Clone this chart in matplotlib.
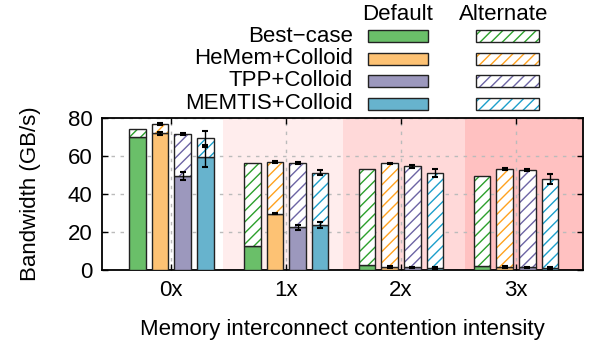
import numpy as np
import matplotlib
matplotlib.use('Agg')
import matplotlib.pyplot as plt
from matplotlib.patches import Rectangle

plt.rcParams['font.family'] = ['Liberation Sans', 'DejaVu Sans']
plt.rcParams['hatch.linewidth'] = 1.0

groups = ['0x', '1x', '2x', '3x']
systems = ['Best\u2212case', 'HeMem+Colloid', 'TPP+Colloid', 'MEMTIS+Colloid']

# bottom (solid) part of each stacked bar
default_bw = [
    [70.2, 12.6, 2.5, 2.3],
    [72.0, 29.8, 1.6, 1.5],
    [49.6, 22.5, 1.4, 1.4],
    [59.6, 23.7, 1.0, 1.0],
]
# top (hatched) part of each stacked bar
alternate_bw = [
    [4.1, 44.1, 51.0, 47.5],
    [5.0, 27.2, 54.7, 52.0],
    [22.1, 33.8, 53.2, 51.3],
    [9.9, 27.7, 50.2, 46.9],
]
default_err = [
    [0, 0, 0, 0],
    [0.6, 0.5, 0.4, 0.4],
    [2.0, 1.5, 0.4, 0.4],
    [5.5, 1.5, 0.4, 0.4],
]
total_err = [
    [0, 0, 0, 0],
    [0.6, 0.4, 0.4, 0.5],
    [0.5, 0.5, 1.0, 0.5],
    [3.8, 1.5, 2.0, 2.5],
]

fill_colors = ['#6abf69', '#fdc274', '#9c98bd', '#67b3cd']
hatch_colors = ['#2ca02c', '#ffa21f', '#6c64a4', '#1c9fcb']
shade_colors = ['#ffffff', '#ffeded', '#ffd9d9', '#ffc1c1']
shade_edges = [-0.6, 0.446, 1.498, 2.557, 3.58]

FS = 16

fig = plt.figure(figsize=(5.89, 3.48), dpi=100)
ax = fig.add_axes([0.1737, 0.2241, 0.8156, 0.4359])

for i in range(4):
    ax.axvspan(shade_edges[i], shade_edges[i + 1], color=shade_colors[i], lw=0, zorder=0)

x = np.arange(len(groups))
slot = 0.197
width = 0.145
for k in range(len(systems)):
    pos = x + (k - 1.5) * slot
    d = np.array(default_bw[k])
    a = np.array(alternate_bw[k])
    ax.bar(pos, d, width, color=fill_colors[k], edgecolor='#222222', lw=1.0, zorder=3)
    ax.bar(pos, a, width, bottom=d, color='white', edgecolor=hatch_colors[k],
           hatch='///', lw=0, zorder=3)
    ax.bar(pos, a, width, bottom=d, fill=False, edgecolor='#222222', lw=1.0, zorder=4)
    de = np.array(default_err[k])
    te = np.array(total_err[k])
    m = de > 0
    ax.errorbar(pos[m], d[m], yerr=de[m], fmt='none', ecolor='black', elinewidth=1.0,
                capsize=2.5, capthick=1.5, zorder=5)
    m = te > 0
    ax.errorbar(pos[m], (d + a)[m], yerr=te[m], fmt='none', ecolor='black', elinewidth=1.0,
                capsize=2.5, capthick=1.5, zorder=5)

ax.set_xlim(-0.6, 3.58)
ax.set_ylim(0, 80)
ax.set_xticks(x)
ax.set_xticklabels(groups)
ax.set_yticks([0, 20, 40, 60, 80])
ax.grid(True, color='#bbbbbb', ls=(0, (2.5, 4)), lw=1.0, zorder=1)
ax.set_axisbelow(True)
ax.tick_params(direction='in', top=True, right=True, labelsize=FS, length=4, width=1, pad=7)
for s in ax.spines.values():
    s.set_linewidth(1.3)
ax.set_ylabel('Bandwidth (GB/s)', fontsize=FS, labelpad=19)
ax.set_xlabel('Memory interconnect contention intensity', fontsize=FS, labelpad=13)

# legend drawn in pixel coordinates above the plot
lax = fig.add_axes([0, 0, 1, 1], zorder=-1)
lax.set_xlim(0, 589)
lax.set_ylim(348, 0)
lax.axis('off')
lax.text(398, 14, 'Default', ha='center', va='center', fontsize=FS)
lax.text(504, 14, 'Alternate', ha='center', va='center', fontsize=FS)
rows = [36, 58.5, 81, 103.5]
for k, name in enumerate(systems):
    y = rows[k]
    lax.text(353, y, name, ha='right', va='center', fontsize=FS)
    lax.add_patch(Rectangle((368, y - 6), 60, 12, facecolor=fill_colors[k],
                            edgecolor='#222222', lw=1.0))
    lax.add_patch(Rectangle((476, y - 6), 63, 12, facecolor='white',
                            edgecolor=hatch_colors[k], hatch='///', lw=0))
    lax.add_patch(Rectangle((476, y - 6), 63, 12, fill=False,
                            edgecolor='#222222', lw=1.0))

fig.savefig('out.png', dpi=100)
